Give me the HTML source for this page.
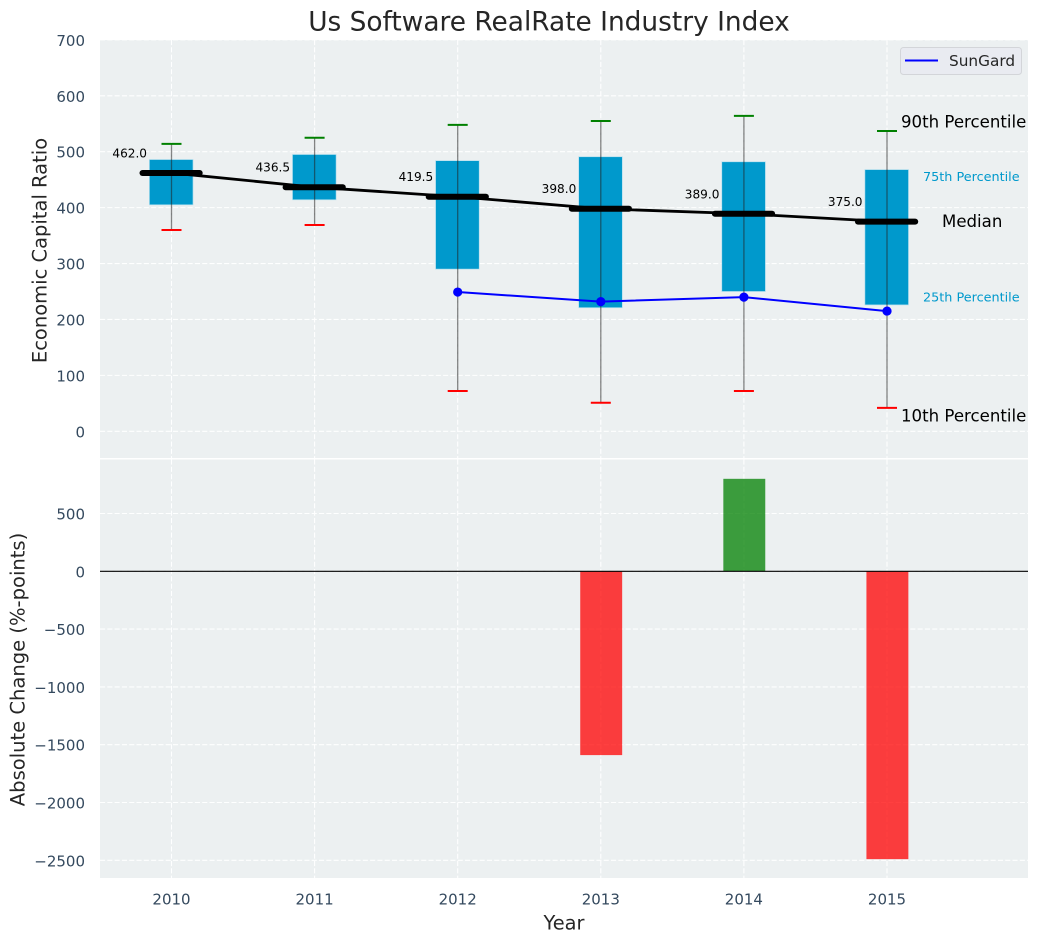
<!DOCTYPE html>
<html>
<head>
<meta charset="utf-8">
<title>Us Software RealRate Industry Index</title>
<style>
html,body{margin:0;padding:0;background:#fff;width:1039px;height:942px;overflow:hidden}
svg{display:block}
text{font-family:"DejaVu Sans","Liberation Sans",sans-serif}
</style>
</head>
<body>
<svg id="chart" xmlns="http://www.w3.org/2000/svg" width="1039" height="942" viewBox="0 0 1039 942"></svg>
<script>
const years = [2010, 2011, 2012, 2013, 2014, 2015];
const p10 = [360, 369, 72, 51, 72, 42];
const p25 = [405, 414, 290, 221, 250, 226];
const medians = [462, 436.5, 419.5, 398, 389, 375];
const p75 = [486, 495, 484, 491, 482, 468];
const p90 = [514, 525, 548, 555, 564, 537];
const sungardYears = [2012, 2013, 2014, 2015];
const sungard = [249, 232, 240, 215];
const changeYears = [2013, 2014, 2015];
const changes = [-1590, 800, -2490];
const topTicks = [0, 100, 200, 300, 400, 500, 600, 700];
const bottomTicks = [500, 0, -500, -1000, -1500, -2000, -2500];

const svg = document.getElementById('chart');
const NS = 'http://www.w3.org/2000/svg';
const L = 100, R = 1028;
const T1 = 40, B1 = 458, T2 = 459.5, B2 = 878;
const xs = v => 171.5 + (v - 2010) * 143.1;
const y1 = v => 431.3 - v * 0.5592;
const y2 = v => 571.3 - v * 0.1156;
const dw = 143.1;

function add(tag, attrs, name, parent) {
  const el = document.createElementNS(NS, tag);
  for (const k in attrs) el.setAttribute(k, attrs[k]);
  
  
  (parent || svg).appendChild(el);
  return el;
}
function label(x, y, str, size, fill, anchor, name, extra) {
  const el = add('text', Object.assign({x: x, y: y, 'font-size': size, fill: fill, 'text-anchor': anchor, 'dominant-baseline': 'central'}, extra || {}), name);
  el.textContent = str;
  return el;
}
const grid = {stroke: '#ffffff', 'stroke-width': 1.1, 'stroke-dasharray': '5.1 2.2', fill: 'none', opacity: 0.95};

/* panels */
add('rect', {x: L, y: T1, width: R - L, height: B1 - T1, fill: '#ecf0f1'}, 'top-panel-background');
add('rect', {x: L, y: T2, width: R - L, height: B2 - T2, fill: '#ecf0f1'}, 'bottom-panel-background');

/* grids */
topTicks.forEach(t => {
  add('line', Object.assign({x1: L, x2: R, y1: y1(t), y2: y1(t)}, grid), 'top-grid-line-' + t);
  label(85, y1(t) + 1, String(t), 15, '#34495e', 'end', 'top-y-tick-' + t);
});
bottomTicks.forEach(t => {
  add('line', Object.assign({x1: L, x2: R, y1: y2(t), y2: y2(t)}, grid), 'bottom-grid-line-' + t);
  label(85, y2(t) + 1, String(t).replace('-', '\u2212'), 15, '#34495e', 'end', 'bottom-y-tick-' + t);
});
years.forEach(yr => {
  add('line', Object.assign({x1: xs(yr), x2: xs(yr), y1: T1, y2: B1}, grid), 'top-vertical-grid-' + yr);
  add('line', Object.assign({x1: xs(yr), x2: xs(yr), y1: T2, y2: B2}, grid), 'bottom-vertical-grid-' + yr);
  label(xs(yr), 899.5, String(yr), 15, '#34495e', 'middle', 'x-tick-' + yr);
});

/* boxes */
years.forEach((yr, i) => {
  const cx = xs(yr), bw = 0.305 * dw;
  add('rect', {x: cx - bw / 2 - 0.3, y: y1(p75[i]), width: bw, height: y1(p25[i]) - y1(p75[i]), fill: '#0099cc', stroke: '#b5dfee', 'stroke-width': 0.7}, 'box-' + yr);
  add('line', {x1: cx, x2: cx, y1: y1(p90[i]), y2: y1(p10[i]), stroke: '#222', 'stroke-width': 1.3, opacity: 0.55}, 'whisker-' + yr);
  add('line', {x1: cx - 10, x2: cx + 10, y1: y1(p90[i]), y2: y1(p90[i]), stroke: '#008000', 'stroke-width': 2}, 'cap-90th-' + yr);
  add('line', {x1: cx - 10, x2: cx + 10, y1: y1(p10[i]), y2: y1(p10[i]), stroke: '#ff0000', 'stroke-width': 2}, 'cap-10th-' + yr);
});

/* median trend */
add('polyline', {
  points: years.map((yr, i) => xs(yr) + ',' + y1(medians[i])).join(' '),
  fill: 'none', stroke: '#000', 'stroke-width': 2.8
}, 'median-trend-line');
years.forEach((yr, i) => {
  const cx = xs(yr);
  add('line', {x1: cx - 29, x2: cx + 28.2, y1: y1(medians[i]), y2: y1(medians[i]), stroke: '#000', 'stroke-width': 6, 'stroke-linecap': 'round'}, 'median-bar-' + yr);
  label(cx - 24.5, y1(medians[i]) - 19.5, medians[i].toFixed(1), 12.1, '#000', 'end', 'median-value-' + yr);
});

/* SunGard */
add('polyline', {
  points: sungardYears.map((yr, i) => xs(yr) + ',' + y1(sungard[i])).join(' '),
  fill: 'none', stroke: '#0000ff', 'stroke-width': 2
}, 'sungard-line');
sungardYears.forEach((yr, i) => {
  add('circle', {cx: xs(yr), cy: y1(sungard[i]), r: 4.6, fill: '#0000ff'}, 'sungard-point-' + yr);
});

/* annotations */
const last = years.length - 1;
const ax = xs(years[last]);
label(ax + 14, y1(p90[last]) - 9, '90th Percentile', 16.6, '#000', 'start', 'label-90th-percentile');
label(ax + 14, y1(p10[last]) + 8, '10th Percentile', 16.6, '#000', 'start', 'label-10th-percentile');
label(ax + 36, y1(p75[last]) + 8, '75th Percentile', 12.8, '#0099cc', 'start', 'label-75th-percentile');
label(ax + 36, y1(p25[last]) - 7, '25th Percentile', 12.8, '#0099cc', 'start', 'label-25th-percentile');
label(ax + 55, y1(medians[last]), 'Median', 16.6, '#000', 'start', 'label-median');

/* legend */
add('rect', {x: 900.5, y: 47.5, width: 121, height: 27, rx: 3, fill: '#e9ebf1', stroke: '#d3d5d9', 'stroke-width': 1}, 'legend-box');
add('line', {x1: 905, x2: 938, y1: 60.5, y2: 60.5, stroke: '#0000ff', 'stroke-width': 2}, 'legend-sungard-line');
label(949, 61, 'SunGard', 15.3, '#262626', 'start', 'legend-sungard-label');

/* change bars */
changeYears.forEach((yr, i) => {
  const v = changes[i], bw = 0.293 * dw;
  add('rect', {x: xs(yr) - bw / 2 + 0.4, y: Math.min(y2(v), y2(0)), width: bw, height: Math.abs(y2(v) - y2(0)), fill: v < 0 ? '#ff0000' : '#008000', opacity: 0.75}, 'change-bar-' + yr);
});
add('line', {x1: L, x2: R, y1: y2(0), y2: y2(0), stroke: '#000', 'stroke-width': 1.1}, 'zero-line');

/* titles */
label(549, 22, 'Us Software RealRate Industry Index', 26.4, '#262626', 'middle', 'chart-title');
label(564, 923, 'Year', 19.4, '#262626', 'middle', 'x-axis-title');
label(40, 250.5, 'Economic Capital Ratio', 19.5, '#262626', 'middle', 'top-y-axis-title', {transform: 'rotate(-90 40 250.5)'});
label(18, 669.5, 'Absolute Change (%-points)', 19.55, '#262626', 'middle', 'bottom-y-axis-title', {transform: 'rotate(-90 18 669.5)'});
</script>
</body>
</html>
